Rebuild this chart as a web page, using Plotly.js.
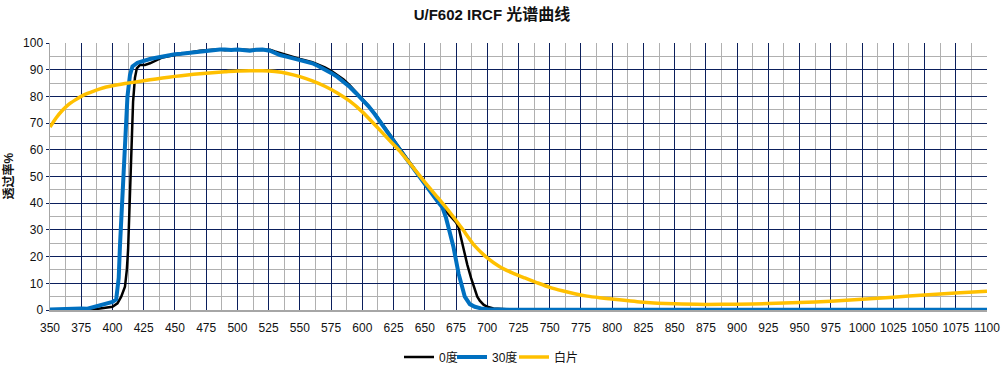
<!DOCTYPE html>
<html>
<head>
<meta charset="utf-8">
<script src="https://cdn.plot.ly/plotly-3.0.1.min.js"></script>
<style>html,body{margin:0;padding:0;background:#fff;}#chart{width:1002px;height:369px;}</style>
</head>
<body>
<div id="chart"></div>
<script>
// ---- data ----
const titleLatin = "U/F602 IRCF";
const titleCJK = "光谱曲线";
const yTitle = "透过率%";
const seriesNames = ["0度", "30度", "白片"];

const wl0 = [350,375,383,390,395,400,404,407,410,411.5,412.5,414,415,416.5,418,419.5,422,426,430,435,440,450,460,470,480,486,490,500,510,520,526,530,534,540,550,560,565,570,575,580,585,590,595,600,605,610,615,620,625,630,635,640,645,650,655,660,665,670,675,677,679,681,684,687,689,692,694,697,700,705,715,730,800,900,1000,1100];
const t0  = [0,0,0,0.6,0.9,1.2,2.5,5,8.7,15,22.5,42,60,78,87,90.5,91.8,91.8,92.4,93.6,94.6,95.5,96.2,97.1,97.5,97.6,97.3,97.7,97.4,97.4,97.5,96.8,96.2,95.4,94.0,92.8,91.9,90.9,89.6,88.1,86.3,84.1,81.6,79.1,76.5,73.6,70.4,67.0,63.7,60.4,57.3,54.0,50.7,47.4,44.1,40.9,38.0,35.3,32.8,31.0,27,22.5,17,12,9,5,3.5,2,1.2,0.6,0.3,0.1,0.1,0.1,0.1,0.1];

const wl30 = [350,360,370,375,380,386,390,396,400,403,405,406,408,410,412,414,416,420,425,430,435,440,445,450,455,460,465,470,475,480,486,490,495,500,505,510,515,520,526,530,534,540,545,550,555,560,565,570,575,580,585,590,595,600,605,610,615,620,625,630,635,640,645,650,655,660,664,667,670,673,677,680,682,686,690,695,700,720,800,900,1000,1100];
const t30  = [0.2,0.5,0.8,0.6,0.5,1.2,2.0,2.7,3.0,4,12,24,45,62,80,88,91.2,92.6,93.4,94.0,94.5,95.0,95.5,95.8,96.0,96.3,96.6,96.9,97.1,97.3,97.6,97.6,97.4,97.6,97.2,97.1,97.5,97.6,97.1,96.2,95.5,94.8,94.2,93.6,93.0,92.4,91.3,90.2,88.8,87.3,85.6,83.5,81.2,78.8,76.3,73.3,69.9,66.6,63.3,60.0,56.8,53.6,50.3,47.0,43.8,40.8,38.5,34.5,29,23.5,13.7,8,5,2.2,1.2,0.6,0.3,0.1,0.1,0.1,0.1,0.1];

const wlW = [350,355,360,365,370,375,380,385,390,395,400,410,420,430,440,450,460,470,480,490,500,510,520,530,540,550,560,570,580,590,600,610,620,630,640,650,660,670,680,690,700,710,720,730,740,750,760,770,780,790,800,825,850,875,900,925,950,975,1000,1025,1050,1075,1100];
const tW  = [68.5,72.0,74.8,77.0,78.6,80.0,81.1,82.0,82.8,83.5,84.0,84.8,85.5,86.2,86.9,87.5,88.0,88.5,88.9,89.2,89.5,89.6,89.6,89.3,88.6,87.4,85.8,83.8,81.3,78.2,74.2,69.4,64.4,59.5,53.8,47.9,42.3,36.6,30.4,24.0,19.5,16.2,13.9,12.0,10.2,8.5,7.2,6.1,5.2,4.6,4.1,2.9,2.3,2.1,2.2,2.4,2.8,3.3,4.0,4.8,5.6,6.4,7.0];

const xTicks = [350,375,400,425,450,475,500,525,550,575,600,625,650,675,700,725,750,775,800,825,850,875,900,925,950,975,1000,1025,1050,1075,1100];
const yTicks = [0,10,20,30,40,50,60,70,80,90,100];

// ---- chart ----
const font = "Liberation Sans, Noto Sans CJK SC, sans-serif";
const traces = [
  {x: wl0, y: t0, name: seriesNames[0], type: "scatter", mode: "lines", legend: "legend",
   line: {color: "#000000", width: 2.5}},
  {x: wl30, y: t30, name: seriesNames[1], type: "scatter", mode: "lines", legend: "legend2",
   line: {color: "#0070C0", width: 4}},
  {x: wlW, y: tW, name: seriesNames[2], type: "scatter", mode: "lines", legend: "legend3",
   line: {color: "#FFC000", width: 3.5, shape: "spline", smoothing: 0.6}}
];

function legendAt(px) {
  return {orientation: "h", x: px / 1002, xref: "container", xanchor: "left",
          y: 1 - 357 / 369, yref: "container", yanchor: "middle",
          font: {family: font, size: 12, color: "#111111"}, itemwidth: 30,
          bgcolor: "rgba(0,0,0,0)", borderwidth: 0};
}

const layout = {
  width: 1002, height: 369, autosize: false,
  paper_bgcolor: "#ffffff", plot_bgcolor: "#ffffff",
  margin: {l: 50, r: 15, t: 43, b: 59},
  font: {family: font, size: 12, color: "#111111"},
  title: {text: "<b>" + titleLatin + " <span style='font-size:16px'>" + titleCJK + "</span></b>",
          x: 0.491, xref: "container", xanchor: "center",
          y: 1 - 15 / 369, yref: "container", yanchor: "middle",
          font: {family: font, size: 15, color: "#111111"}},
  showlegend: true,
  legend: legendAt(399),
  legend2: legendAt(452),
  legend3: legendAt(514),
  xaxis: {range: [350, 1100], tickvals: xTicks, ticktext: xTicks.map(String),
          showgrid: true, gridcolor: "#0B1F5C", gridwidth: 1,
          minor: {dtick: 12.5, tick0: 350, showgrid: true, gridcolor: "#B0B0B0", gridwidth: 1},
          showline: true, linecolor: "#A6A6A6", linewidth: 1.5, zeroline: false,
          ticks: "", ticklabelstandoff: 6, automargin: false,
          tickfont: {family: font, size: 12, color: "#111111"}, fixedrange: true},
  yaxis: {range: [0, 100], tickvals: yTicks, ticktext: yTicks.map(String),
          showgrid: true, gridcolor: "#0B1F5C", gridwidth: 1,
          minor: {dtick: 5, tick0: 0, showgrid: true, gridcolor: "#B0B0B0", gridwidth: 1},
          showline: true, linecolor: "#A6A6A6", linewidth: 1.5, zeroline: false,
          ticks: "outside", ticklen: 3, tickcolor: "#0B1F5C", automargin: false,
          tickfont: {family: font, size: 12, color: "#111111"}, fixedrange: true},
  annotations: [{text: "<b>" + yTitle + "</b>", textangle: -90, xref: "paper", yref: "paper",
                 x: (8 - 50) / 937, y: 0.5, xanchor: "center", yanchor: "middle",
                 showarrow: false, font: {family: font, size: 12, color: "#111111"}}]
};

Plotly.newPlot("chart", traces, layout, {staticPlot: true, displayModeBar: false});
</script>
</body>
</html>
